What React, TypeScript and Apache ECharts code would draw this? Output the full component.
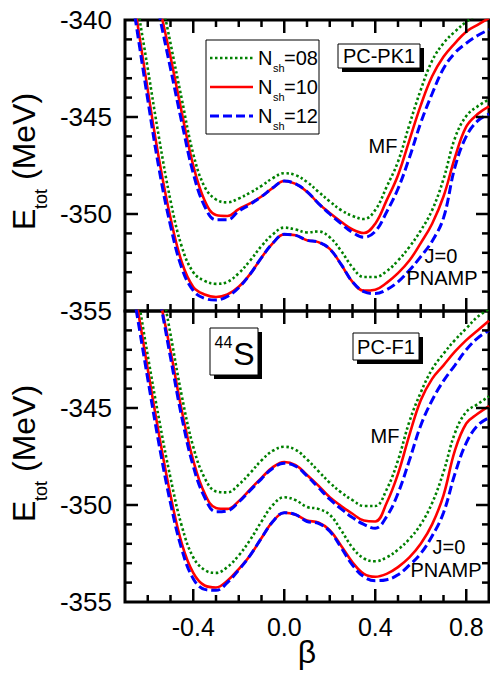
import React, { useEffect, useRef } from "react";
import * as echarts from "echarts";

// deformation grid (beta)
const beta = [
  -0.7, -0.65, -0.6, -0.55, -0.5, -0.45, -0.4, -0.35, -0.3, -0.25, -0.2,
  -0.15, -0.1, -0.05, 0.0, 0.05, 0.1, 0.15, 0.2, 0.25, 0.3, 0.35, 0.4,
  0.45, 0.5, 0.55, 0.6, 0.65, 0.7, 0.75, 0.8, 0.85, 0.9,
];

// PC-PK1 (top panel)
const mfPK08 = [-329.5, -332.4, -335.3, -338.3, -341.2, -344.1, -346.9, -348.6, -349.25, -349.4, -349.2, -348.9, -348.55, -348.15, -347.9, -348.0, -348.35, -348.85, -349.35, -349.8, -350.1, -350.26, -349.8, -348.6, -347.3, -345.4, -343.6, -342.1, -341.2, -340.6, -340.1, -339.7, -339.3];
const mfPK10 = [-330.5, -333.4, -336.3, -339.2, -341.9, -344.8, -347.5, -349.3, -350.05, -350.1, -349.75, -349.45, -349.1, -348.65, -348.3, -348.45, -348.85, -349.45, -349.95, -350.4, -350.8, -350.98, -350.5, -349.3, -348.0, -346.2, -344.4, -342.9, -341.9, -341.2, -340.6, -340.25, -339.9];
const mfPK12 = [-331.0, -333.9, -336.8, -339.7, -342.5, -345.3, -347.9, -349.6, -350.3, -350.3, -349.85, -349.5, -349.1, -348.65, -348.3, -348.45, -348.85, -349.45, -350.0, -350.5, -350.95, -351.2, -350.9, -349.9, -348.7, -347.1, -345.3, -343.8, -342.5, -341.7, -341.2, -340.8, -340.5];
const pnPK08 = [-334.8, -338.9, -342.5, -346.1, -349.3, -351.7, -353.0, -353.45, -353.6, -353.5, -353.05, -352.4, -351.65, -351.05, -350.7, -350.8, -350.95, -350.9, -351.2, -351.9, -352.75, -353.25, -353.25, -352.95, -352.4, -351.7, -350.85, -349.8, -348.2, -346.1, -344.95, -344.45, -344.1];
const pnPK10 = [-336.0, -339.8, -343.6, -347.2, -350.2, -352.5, -353.76, -354.15, -354.28, -354.15, -353.75, -353.1, -352.25, -351.5, -351.05, -351.1, -351.35, -351.45, -351.8, -352.6, -353.5, -353.95, -353.9, -353.55, -353.05, -352.4, -351.5, -350.5, -349.1, -347.1, -345.5, -344.85, -344.45];
const pnPK12 = [-336.5, -340.3, -344.1, -347.7, -350.6, -352.8, -353.95, -354.35, -354.43, -354.25, -353.8, -353.1, -352.25, -351.5, -351.05, -351.1, -351.35, -351.45, -351.8, -352.6, -353.5, -354.0, -354.1, -353.9, -353.5, -352.9, -352.2, -351.4, -350.2, -347.6, -346.0, -345.2, -344.85];

// PC-F1 (bottom panel)
const mfF08 = [-329.8, -332.3, -335.2, -338.0, -341.2, -344.4, -347.0, -348.6, -349.3, -349.35, -348.95, -348.35, -347.7, -347.2, -347.0, -347.15, -347.65, -348.25, -348.85, -349.35, -349.75, -350.05, -350.05, -349.2, -347.7, -345.7, -344.2, -343.0, -342.2, -341.5, -340.9, -340.3, -339.9];
const mfF10 = [-330.5, -333.5, -336.5, -339.2, -342.05, -345.15, -347.7, -349.4, -350.15, -350.2, -349.8, -349.2, -348.6, -348.05, -347.78, -347.95, -348.45, -349.0, -349.6, -350.05, -350.45, -350.8, -350.85, -349.9, -348.4, -346.4, -344.6, -343.5, -342.8, -342.1, -341.5, -341.0, -340.5];
const mfF12 = [-331.0, -334.0, -336.9, -339.3, -342.4, -345.5, -348.0, -349.6, -350.35, -350.3, -349.85, -349.25, -348.65, -348.1, -347.85, -348.0, -348.5, -349.1, -349.7, -350.2, -350.65, -351.0, -351.2, -350.6, -349.4, -347.7, -345.9, -344.6, -343.6, -342.8, -342.0, -341.4, -341.0];
const pnF08 = [-335.5, -338.8, -342.3, -345.6, -348.6, -351.1, -352.7, -353.35, -353.5, -353.2, -352.6, -351.8, -350.85, -350.0, -349.6, -349.75, -350.1, -350.2, -350.5, -351.3, -352.2, -352.75, -352.9, -352.7, -352.3, -351.75, -351.0, -349.9, -348.3, -346.3, -345.2, -344.8, -344.4];
const pnF10 = [-336.2, -339.5, -343.0, -346.4, -349.5, -352.0, -353.5, -354.15, -354.25, -353.9, -353.3, -352.6, -351.7, -350.85, -350.4, -350.5, -350.8, -350.9, -351.3, -352.1, -352.95, -353.55, -353.7, -353.55, -353.2, -352.7, -352.0, -351.0, -349.5, -347.2, -345.8, -345.3, -344.9];
const pnF12 = [-336.6, -340.0, -343.5, -346.9, -349.9, -352.3, -353.8, -354.35, -354.4, -354.0, -353.35, -352.6, -351.7, -350.85, -350.4, -350.5, -350.85, -350.95, -351.35, -352.2, -353.1, -353.7, -353.9, -353.85, -353.6, -353.1, -352.5, -351.6, -350.4, -348.4, -346.8, -345.9, -345.5];

// ticks and labels
const xMajor = [-0.4, 0.0, 0.4, 0.8];
const xMinor = [-0.6, -0.5, -0.3, -0.2, -0.1, 0.1, 0.2, 0.3, 0.5, 0.6, 0.7];
const yMajor = [-345, -350];
const yMinor = [-341, -342, -343, -344, -346, -347, -348, -349, -351, -352, -353, -354];
const yLabelsTop = [-340, -345, -350, -355];
const yLabelsBottom = [-345, -350, -355];
const xLabels = [-0.4, 0.0, 0.4, 0.8];

const seriesNames = ["N_sh=08", "N_sh=10", "N_sh=12"];
const legendValues = ["08", "10", "12"];

const X_MIN = -0.7, X_MAX = 0.9, Y_MIN = -355, Y_MAX = -340;
const GRID_LEFT = 125, GRID_W = 364, GRID_H = 291;
const GRID_TOPS = [20, 311];
const FONT = '"Liberation Sans", Arial, sans-serif';
const GREEN = "#008000";
const RED = "#ff0000";
const BLUE = "#0000ff";

function xAx(gi: number, labels: number[] | null) {
  return {
    type: "value", gridIndex: gi, min: X_MIN, max: X_MAX, position: "bottom",
    axisLine: { show: false, onZero: false },
    axisTick: { show: false },
    axisLabel: labels
      ? { show: true, customValues: labels, margin: 12, fontSize: 25, color: "#000", fontFamily: FONT, formatter: (v: number) => v.toFixed(1) }
      : { show: false },
    splitLine: { show: false },
  };
}
function yAx(gi: number, labels: number[]) {
  return {
    type: "value", gridIndex: gi, min: Y_MIN, max: Y_MAX, position: "left",
    axisLine: { show: false, onZero: false },
    axisTick: { show: false },
    axisLabel: { show: true, customValues: labels, margin: 13, fontSize: 26, color: "#000", fontFamily: FONT, formatter: (v: number) => String(v) },
    splitLine: { show: false },
  };
}

function line(name: string, ys: number[], gi: number, color: string, type: any, width: number) {
  return {
    type: "line", name, xAxisIndex: gi, yAxisIndex: gi,
    data: beta.map((b, i) => [b, ys[i]]),
    showSymbol: false, symbol: "none", smooth: 0.4, clip: true,
    lineStyle: { color, type, width }, silent: true, z: 3,
  };
}

function T(text: string, x: number, y: number, size: number, align = "center", extra: any = {}) {
  return {
    type: "text", x, y, z: 100,
    style: { text, fontSize: size, fontFamily: FONT, fill: "#000", textAlign: align, textVerticalAlign: "middle" },
    ...extra,
  };
}
function boxWithShadow(x: number, y: number, w: number, h: number) {
  return [
    { type: "rect", z: 90, shape: { x: x + 4, y: y + 4, width: w, height: h }, style: { fill: "#000" } },
    { type: "rect", z: 91, shape: { x, y, width: w, height: h }, style: { fill: "#fff", stroke: "#000", lineWidth: 1 } },
  ];
}

// inward tick marks on all four sides of each panel, drawn as small filled bars
// (same linear mapping as the grid's axes)
const TICK_W = 2.5;
function tickBar(x: number, y: number, w: number, h: number) {
  return { type: "rect", z: 96, shape: { x, y, width: w, height: h }, style: { fill: "#000", stroke: null } };
}
function tickMarks() {
  const els: any[] = [];
  GRID_TOPS.forEach((top) => {
    const bottom = top + GRID_H;
    const right = GRID_LEFT + GRID_W;
    const px = (v: number) => GRID_LEFT + ((v - X_MIN) / (X_MAX - X_MIN)) * GRID_W;
    const py = (v: number) => top + ((Y_MAX - v) / (Y_MAX - Y_MIN)) * GRID_H;
    const addX = (vals: number[], len: number) =>
      vals.forEach((v) => {
        const x = px(v) - TICK_W / 2;
        els.push(tickBar(x, bottom - len, TICK_W, len));
        els.push(tickBar(x, top, TICK_W, len));
      });
    const addY = (vals: number[], len: number) =>
      vals.forEach((v) => {
        const y = py(v) - TICK_W / 2;
        els.push(tickBar(GRID_LEFT, y, len, TICK_W));
        els.push(tickBar(right - len, y, len, TICK_W));
      });
    addX(xMajor, 13);
    addX(xMinor, 7);
    addY(yMajor, 13);
    addY(yMinor, 7);
  });
  return els;
}

const rot = { rotation: Math.PI / 2 };
const lineTypes: any[] = [[2.5, 2.5], "solid", [9, 4]];
const lineColors = [GREEN, RED, BLUE];
const lineWidths = [2.6, 2.6, 3];
const legendRows = [58, 87, 116];

const graphic: any[] = [
  // axis ticks
  ...tickMarks(),
  // y-axis titles
  T("E", 24, 230, 32, "left", rot),
  T("tot", 41, 209, 18, "left", rot),
  T("(MeV)", 24, 180, 32, "left", rot),
  T("E", 24, 522, 32, "left", rot),
  T("tot", 41, 501, 18, "left", rot),
  T("(MeV)", 24, 472, 32, "left", rot),
  // x-axis title
  T("β", 307, 652, 32),
  // legend
  { type: "rect", z: 90, shape: { x: 206, y: 40, width: 113, height: 94 }, style: { fill: "#fff", stroke: "#000", lineWidth: 1 } },
  ...legendRows.flatMap((yy, i) => [
    { type: "line", z: 95, shape: { x1: 210, y1: yy, x2: 253, y2: yy }, style: lineTypes[i] === "solid" ? { stroke: lineColors[i], lineWidth: lineWidths[i] } : { stroke: lineColors[i], lineWidth: lineWidths[i], lineDash: lineTypes[i] } },
    T("N", 258, yy, 20, "left"),
    T("sh", 273, yy + 10, 11, "left"),
    T("=" + legendValues[i], 284, yy, 20, "left"),
  ]),
  // labels
  ...boxWithShadow(338, 44, 82, 24),
  T("PC-PK1", 379, 56, 20),
  ...boxWithShadow(353, 333, 66, 27),
  T("PC-F1", 386, 346.5, 20),
  ...boxWithShadow(210, 328, 48, 47),
  T("44", 223.5, 342, 16),
  T("S", 244, 354, 32),
  T("MF", 383, 145.5, 20),
  T("J=0", 441, 256, 20),
  T("PNAMP", 442, 277.5, 20),
  T("MF", 385, 436, 20),
  T("J=0", 449, 547, 20),
  T("PNAMP", 446, 569.5, 20),
];

const xAxis: any[] = [xAx(0, null), xAx(1, xLabels)];
const yAxis: any[] = [yAx(0, yLabelsTop), yAx(1, yLabelsBottom)];

const panels = [
  { mf: [mfPK08, mfPK10, mfPK12], pn: [pnPK08, pnPK10, pnPK12] },
  { mf: [mfF08, mfF10, mfF12], pn: [pnF08, pnF10, pnF12] },
];
const series: any[] = [];
panels.forEach((p, gi) => {
  [0, 1, 2].forEach((k) => {
    series.push(line(seriesNames[k], p.mf[k], gi, lineColors[k], lineTypes[k], lineWidths[k]));
    series.push(line(seriesNames[k], p.pn[k], gi, lineColors[k], lineTypes[k], lineWidths[k]));
  });
});

const gridBase = { show: true, borderColor: "#000", borderWidth: 3, backgroundColor: "transparent" };
const option: any = {
  animation: false,
  backgroundColor: "#fff",
  grid: GRID_TOPS.map((top) => ({ ...gridBase, left: GRID_LEFT, top, width: GRID_W, height: GRID_H })),
  xAxis,
  yAxis,
  series,
  graphic,
};

export default function App() {
  const ref = useRef<HTMLDivElement>(null);
  useEffect(() => {
    document.body.style.margin = "0";
    const chart = echarts.init(ref.current!, null, { renderer: "svg" });
    chart.setOption(option);
    return () => chart.dispose();
  }, []);
  return <div ref={ref} style={{ position: "absolute", left: 0, top: 0, width: 490, height: 677, background: "#fff" }} />;
}
